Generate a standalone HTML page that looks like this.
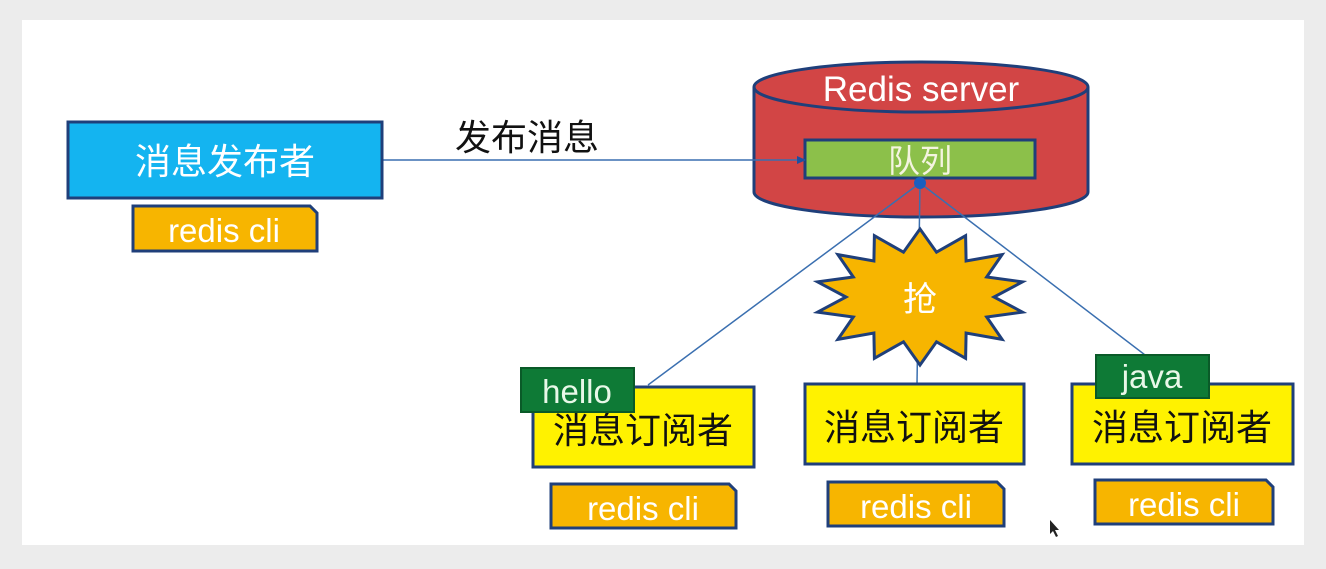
<!DOCTYPE html>
<html><head><meta charset="utf-8"><style>
html,body{margin:0;padding:0;background:#ececec;}
svg{display:block;}
text{font-family:"Liberation Sans","Noto Sans CJK SC",sans-serif;}
</style></head><body>
<svg width="1326" height="569" viewBox="0 0 1326 569" xmlns="http://www.w3.org/2000/svg">
<rect x="0" y="0" width="1326" height="569" fill="#ececec"/>
<rect x="22" y="20" width="1282" height="525" fill="#ffffff"/>
<defs><marker id="ar" markerWidth="10" markerHeight="10" refX="8" refY="5" orient="auto" markerUnits="userSpaceOnUse"><path d="M0,1 L9,5 L0,9 z" fill="#1f4fa0"/></marker></defs>
<path d="M754,87 L754,192 A167,25 0 0 0 1088,192 L1088,87" fill="#d24545" stroke="#1f3f7a" stroke-width="3"/>
<ellipse cx="921" cy="87" rx="167" ry="25" fill="#d24545" stroke="#1f3f7a" stroke-width="3"/>
<text x="921" y="101" font-size="35" fill="#fff" text-anchor="middle">Redis server</text>
<rect x="805" y="140" width="230" height="38" fill="#8cc04a" stroke="#1f3f7a" stroke-width="3"/>
<text x="920" y="172" font-size="32" fill="#f4f4e0" text-anchor="middle">队列</text>
<line x1="382" y1="160" x2="805" y2="160" stroke="#3a6fb0" stroke-width="1.5" marker-end="url(#ar)"/>
<text x="455" y="150" font-size="36" fill="#111">发布消息</text>
<rect x="68" y="122" width="314" height="76" fill="#14b4f0" stroke="#1f3f7a" stroke-width="3"/>
<text x="225" y="174" font-size="36" fill="#fff" text-anchor="middle">消息发布者</text>
<path d="M133,206 L310,206 L317,213 L317,251 L133,251 z" fill="#f7b500" stroke="#1f3f7a" stroke-width="3"/>
<text x="224" y="242" font-size="33" fill="#fff" text-anchor="middle">redis cli</text>
<line x1="920" y1="183" x2="648" y2="385" stroke="#3a6fb0" stroke-width="1.5"/>
<line x1="920" y1="183" x2="917" y2="384" stroke="#3a6fb0" stroke-width="1.5"/>
<line x1="920" y1="183" x2="1145" y2="355" stroke="#3a6fb0" stroke-width="1.5"/>
<circle cx="920" cy="183" r="6" fill="#1a5fc0"/>
<polygon id="star" fill="#f7b500" stroke="#1f3f7a" stroke-width="3" points=""/>
<text x="920" y="311" font-size="34" fill="#fff" text-anchor="middle">抢</text>
<rect x="533" y="387" width="221" height="80" fill="#fff200" stroke="#1f3f7a" stroke-width="3"/>
<text x="643" y="443" font-size="36" fill="#111" text-anchor="middle">消息订阅者</text>
<rect x="805" y="384" width="219" height="80" fill="#fff200" stroke="#1f3f7a" stroke-width="3"/>
<text x="914" y="440" font-size="36" fill="#111" text-anchor="middle">消息订阅者</text>
<rect x="1072" y="384" width="221" height="80" fill="#fff200" stroke="#1f3f7a" stroke-width="3"/>
<text x="1182" y="440" font-size="36" fill="#111" text-anchor="middle">消息订阅者</text>
<rect x="521" y="368" width="113" height="44" fill="#0e7a36" stroke="#0a5a28" stroke-width="2"/>
<text x="577" y="403" font-size="33" fill="#e8f8e8" text-anchor="middle">hello</text>
<rect x="1096" y="355" width="113" height="43" fill="#0e7a36" stroke="#0a5a28" stroke-width="2"/>
<text x="1152" y="388" font-size="33" fill="#e8f8e8" text-anchor="middle">java</text>
<path d="M551,484 L729,484 L736,491 L736,528 L551,528 z" fill="#f7b500" stroke="#1f3f7a" stroke-width="3"/>
<text x="643" y="520" font-size="33" fill="#fff" text-anchor="middle">redis cli</text>
<path d="M828,482 L997,482 L1004,489 L1004,526 L828,526 z" fill="#f7b500" stroke="#1f3f7a" stroke-width="3"/>
<text x="916" y="518" font-size="33" fill="#fff" text-anchor="middle">redis cli</text>
<path d="M1095,480 L1266,480 L1273,487 L1273,524 L1095,524 z" fill="#f7b500" stroke="#1f3f7a" stroke-width="3"/>
<text x="1184" y="516" font-size="33" fill="#fff" text-anchor="middle">redis cli</text>
<path d="M1050,520 L1050,534 L1053,531 L1056,537 L1058,536 L1055,530 L1059,530 z" fill="#222"/>
</svg>
<script>
var n=14,cx=920,cy=297,p=[];
for(var i=0;i<n*2;i++){var a=Math.PI*i/n-Math.PI/2;var o=i%2==0;
p.push((cx+Math.cos(a)*(o?105:74)).toFixed(1)+","+(cy+Math.sin(a)*(o?68:46)).toFixed(1));}
document.getElementById("star").setAttribute("points",p.join(" "));
</script>
</body></html>
